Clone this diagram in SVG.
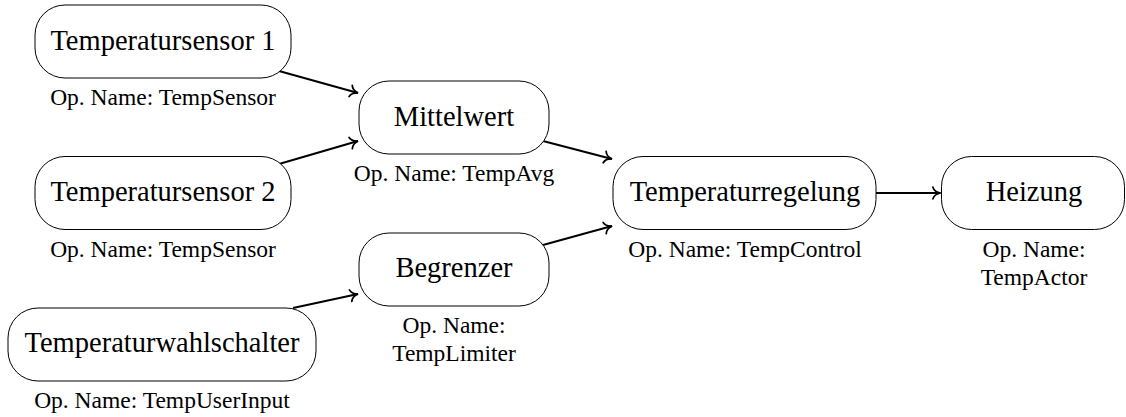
<svg xmlns="http://www.w3.org/2000/svg" width="1126" height="417" viewBox="0 0 1126 417">
<defs>
<style>
.box{fill:#fff;stroke:#000;stroke-width:1}
.t{font-family:"Liberation Serif","Times New Roman",serif;font-size:28.5px;text-anchor:middle;fill:#000}
.l{font-family:"Liberation Serif","Times New Roman",serif;font-size:23.5px;text-anchor:middle;fill:#000}
.e{fill:none;stroke:#000;stroke-width:1.9;marker-end:url(#ah)}
</style>
<marker id="ah" markerUnits="userSpaceOnUse" markerWidth="14" markerHeight="14" viewBox="-8 -6 10 12" refX="0" refY="0" orient="auto">
<path d="M-6.5,-5 C-5.5,-2 -2,-0.4 0,0 C-2,0.4 -5.5,2 -6.5,5" fill="none" stroke="#000" stroke-width="1.5" stroke-linecap="round"/>
</marker>
</defs>
<rect width="1126" height="417" fill="#fff"/>
<g id="connectors">
<line class="e" x1="279" y1="71" x2="358" y2="93"/>
<line class="e" x1="279" y1="164" x2="358" y2="141"/>
<line class="e" x1="543" y1="141" x2="612" y2="159"/>
<line class="e" x1="543" y1="245" x2="612" y2="226"/>
<line class="e" x1="293" y1="308" x2="358" y2="294"/>
<line class="e" x1="876" y1="193" x2="940.5" y2="193"/>
</g>
<g id="ts1">
<rect class="box" x="35" y="5" width="256" height="73" rx="30" ry="30"/>
<text class="t" x="163" y="49.5">Temperatursensor 1</text>
<text class="l" x="163" y="105">Op. Name: TempSensor</text>
</g>
<g id="ts2">
<rect class="box" x="35" y="156.5" width="256" height="73" rx="30" ry="30"/>
<text class="t" x="163" y="201">Temperatursensor 2</text>
<text class="l" x="163" y="257">Op. Name: TempSensor</text>
</g>
<g id="tws">
<rect class="box" x="8" y="308" width="308" height="73" rx="30" ry="30"/>
<text class="t" x="162" y="352">Temperaturwahlschalter</text>
<text class="l" x="162" y="408">Op. Name: TempUserInput</text>
</g>
<g id="mittelwert">
<rect class="box" x="359" y="81" width="190" height="73" rx="30" ry="30"/>
<text class="t" x="454" y="125.5">Mittelwert</text>
<text class="l" x="454" y="181">Op. Name: TempAvg</text>
</g>
<g id="begrenzer">
<rect class="box" x="359" y="233" width="190" height="73" rx="30" ry="30"/>
<text class="t" x="454" y="277">Begrenzer</text>
<text class="l" x="454" y="333">Op. Name:</text>
<text class="l" x="454" y="361">TempLimiter</text>
</g>
<g id="regelung">
<rect class="box" x="613" y="156.5" width="263" height="73" rx="30" ry="30"/>
<text class="t" x="745" y="201">Temperaturregelung</text>
<text class="l" x="745" y="257">Op. Name: TempControl</text>
</g>
<g id="heizung">
<rect class="box" x="941.5" y="156.5" width="183" height="73" rx="30" ry="30"/>
<text class="t" x="1034" y="201">Heizung</text>
<text class="l" x="1034" y="257">Op. Name:</text>
<text class="l" x="1034" y="285">TempActor</text>
</g>
</svg>
